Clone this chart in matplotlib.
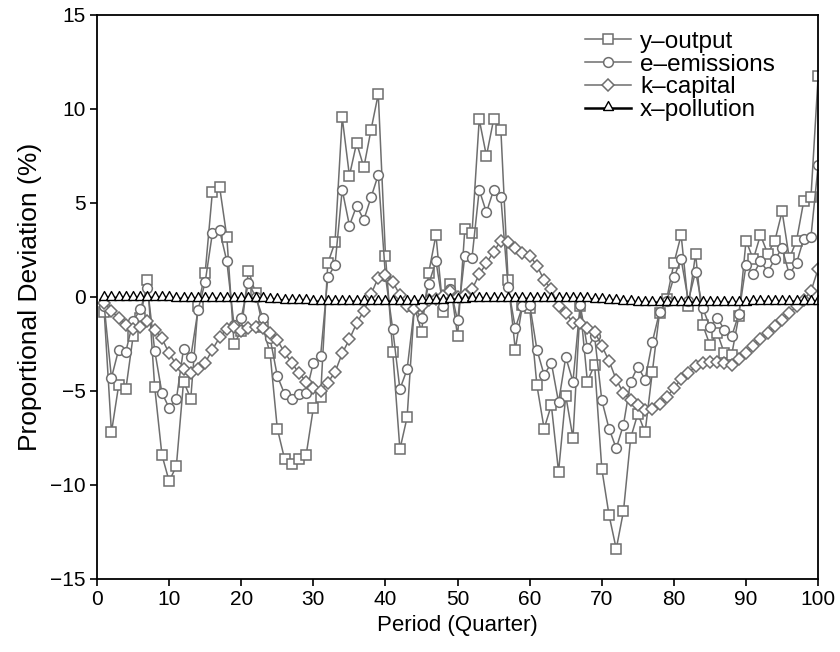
import numpy as np
import matplotlib.pyplot as plt

plt.rcParams['font.family'] = ['Liberation Sans', 'DejaVu Sans']

# Period (quarter)
periods = np.arange(1, 101)

# y - output (%)
y_output = [-0.8, -7.2, -4.7, -4.9, -2.1, -1.1, 0.9, -4.8, -8.4, -9.8,
            -9.0, -4.5, -5.4, -0.5, 1.3, 5.6, 5.85, 3.2, -2.5, -1.8,
            1.4, 0.2, -1.6, -3.0, -7.0, -8.6, -8.9, -8.6, -8.4, -5.9,
            -5.3, 1.8, 2.9, 9.55, 6.45, 8.2, 6.9, 8.9, 10.8, 2.2,
            -2.9, -8.1, -6.4, -0.5, -1.85, 1.3, 3.3, -0.8, 0.7, -2.1,
            3.6, 3.4, 9.45, 7.5, 9.45, 8.9, 0.9, -2.8, -0.4, -0.6,
            -4.7, -7.0, -5.75, -9.3, -5.25, -7.5, -0.5, -4.5, -3.6, -9.15,
            -11.6, -13.4, -11.4, -7.5, -6.2, -7.2, -4.0, -0.85, -0.1, 1.8,
            3.3, -0.5, 2.3, -1.5, -2.55, -1.9, -3.0, -3.1, -1.0, 3.0,
            2.0, 3.3, 2.3, 3.0, 4.55, 2.05, 3.0, 5.1, 5.3, 11.75]

# e - emissions (%)
e_emissions = [-0.5, -4.3, -2.8, -2.9, -1.3, -0.65, 0.5, -2.85, -5.1, -5.9,
               -5.45, -2.75, -3.2, -0.7, 0.8, 3.4, 3.55, 1.9, -1.5, -1.1,
               0.76, 0.0, -1.1, -2.2, -4.2, -5.15, -5.45, -5.15, -5.1, -3.5,
               -3.15, 1.05, 1.7, 5.7, 3.8, 4.85, 4.1, 5.3, 6.5, 1.1,
               -1.7, -4.9, -3.85, -0.6, -1.1, 0.7, 1.9, -0.5, 0.45, -1.25,
               2.2, 2.1, 5.7, 4.5, 5.7, 5.3, 0.55, -1.65, -0.5, -0.4,
               -2.8, -4.15, -3.5, -5.6, -3.2, -4.5, -0.4, -2.7, -2.1, -5.5,
               -7.0, -8.05, -6.8, -4.5, -3.7, -4.4, -2.4, -0.8, -0.2, 1.05,
               2.0, -0.2, 1.35, -0.6, -1.6, -1.1, -1.75, -2.1, -0.9, 1.7,
               1.2, 1.9, 1.35, 2.0, 2.6, 1.2, 1.8, 3.1, 3.2, 7.0]

# k - capital (%)
k_capital = [-0.3, -0.75, -1.1, -1.5, -1.7, -1.6, -1.3, -1.75, -2.2, -3.0,
             -3.6, -3.85, -4.05, -3.85, -3.5, -2.8, -2.15, -1.7, -1.6, -1.8,
             -1.65, -1.6, -1.65, -1.9, -2.3, -2.95, -3.5, -4.05, -4.5, -4.85,
             -5.0, -4.55, -4.0, -3.0, -2.25, -1.4, -0.73, 0.15, 1.03, 1.17,
             0.82, 0.1, -0.5, -0.66, -0.48, -0.16, -0.12, 0.05, 0.3, 0.0,
             0.1, 0.4, 1.2, 1.8, 2.4, 3.0, 2.9, 2.6, 2.36, 2.2,
             1.67, 0.9, 0.4, -0.5, -0.87, -1.36, -1.4, -1.67, -1.85, -2.6,
             -3.4, -4.4, -5.1, -5.5, -5.75, -6.0, -5.95, -5.7, -5.3, -4.86,
             -4.36, -4.06, -3.67, -3.5, -3.45, -3.45, -3.5, -3.6, -3.3, -3.0,
             -2.6, -2.25, -1.9, -1.55, -1.2, -0.85, -0.5, -0.15, 0.3, 1.5]

# x - pollution (%)
x_pollution = [-0.05, -0.05, -0.05, -0.05, -0.05, -0.05, -0.05, -0.05, -0.05, -0.05,
               -0.1, -0.1, -0.1, -0.1, -0.1, -0.1, -0.1, -0.1, -0.1, -0.1,
               -0.1, -0.1, -0.1, -0.15, -0.15, -0.2, -0.2, -0.2, -0.2, -0.25,
               -0.25, -0.25, -0.25, -0.25, -0.25, -0.25, -0.25, -0.25, -0.25, -0.25,
               -0.25, -0.25, -0.25, -0.25, -0.2, -0.2, -0.2, -0.2, -0.15, -0.15,
               -0.15, -0.1, -0.1, -0.1, -0.1, -0.1, -0.1, -0.1, -0.1, -0.1,
               -0.1, -0.1, -0.1, -0.1, -0.1, -0.1, -0.1, -0.1, -0.15, -0.15,
               -0.2, -0.2, -0.25, -0.25, -0.3, -0.3, -0.3, -0.3, -0.3, -0.3,
               -0.3, -0.3, -0.3, -0.3, -0.3, -0.3, -0.3, -0.3, -0.3, -0.3,
               -0.25, -0.25, -0.25, -0.25, -0.25, -0.25, -0.25, -0.25, -0.25, -0.25]

fig = plt.figure(figsize=(8.4, 6.52), dpi=100)
ax = fig.add_axes([0.1155, 0.112, 0.8585, 0.865])

grey = '#6e6e6e'
common = dict(color=grey, lw=1.1, mfc='white', mec=grey, mew=1.1)

ax.plot(periods, y_output, marker='s', ms=7, label='y\u2013output', **common)
ax.plot(periods, e_emissions, marker='o', ms=7, label='e\u2013emissions', **common)
ax.plot(periods, k_capital, marker='D', ms=6, label='k\u2013capital', **common)

# triangle drawn with its base near the point, as in the original
tri = [(-1.0, -0.4), (1.0, -0.4), (0.0, 1.4), (-1.0, -0.4)]
ax.plot(periods, x_pollution, color='black', lw=1.8, marker=tri, ms=10,
        mfc='white', mec='black', mew=1.0, label='x\u2013pollution')

ax.set_xlim(0, 100)
ax.set_ylim(-15, 15)
ax.set_xticks(np.arange(0, 101, 10))
ax.set_yticks(np.arange(-15, 16, 5))

for s in ax.spines.values():
    s.set_linewidth(1.3)
ax.tick_params(direction='out', length=5, width=1.2, labelsize=15, pad=3)

ax.set_xlabel('Period (Quarter)', fontsize=16, labelpad=4)
ax.set_ylabel('Proportional Deviation (%)', fontsize=19, labelpad=6)

ax.legend(loc='upper left', bbox_to_anchor=(0.677, 0.972), frameon=False,
          fontsize=17.5, handlelength=1.9, handletextpad=0.35, labelspacing=0.03,
          borderpad=0, borderaxespad=0)

fig.savefig('out.png', dpi=100)
